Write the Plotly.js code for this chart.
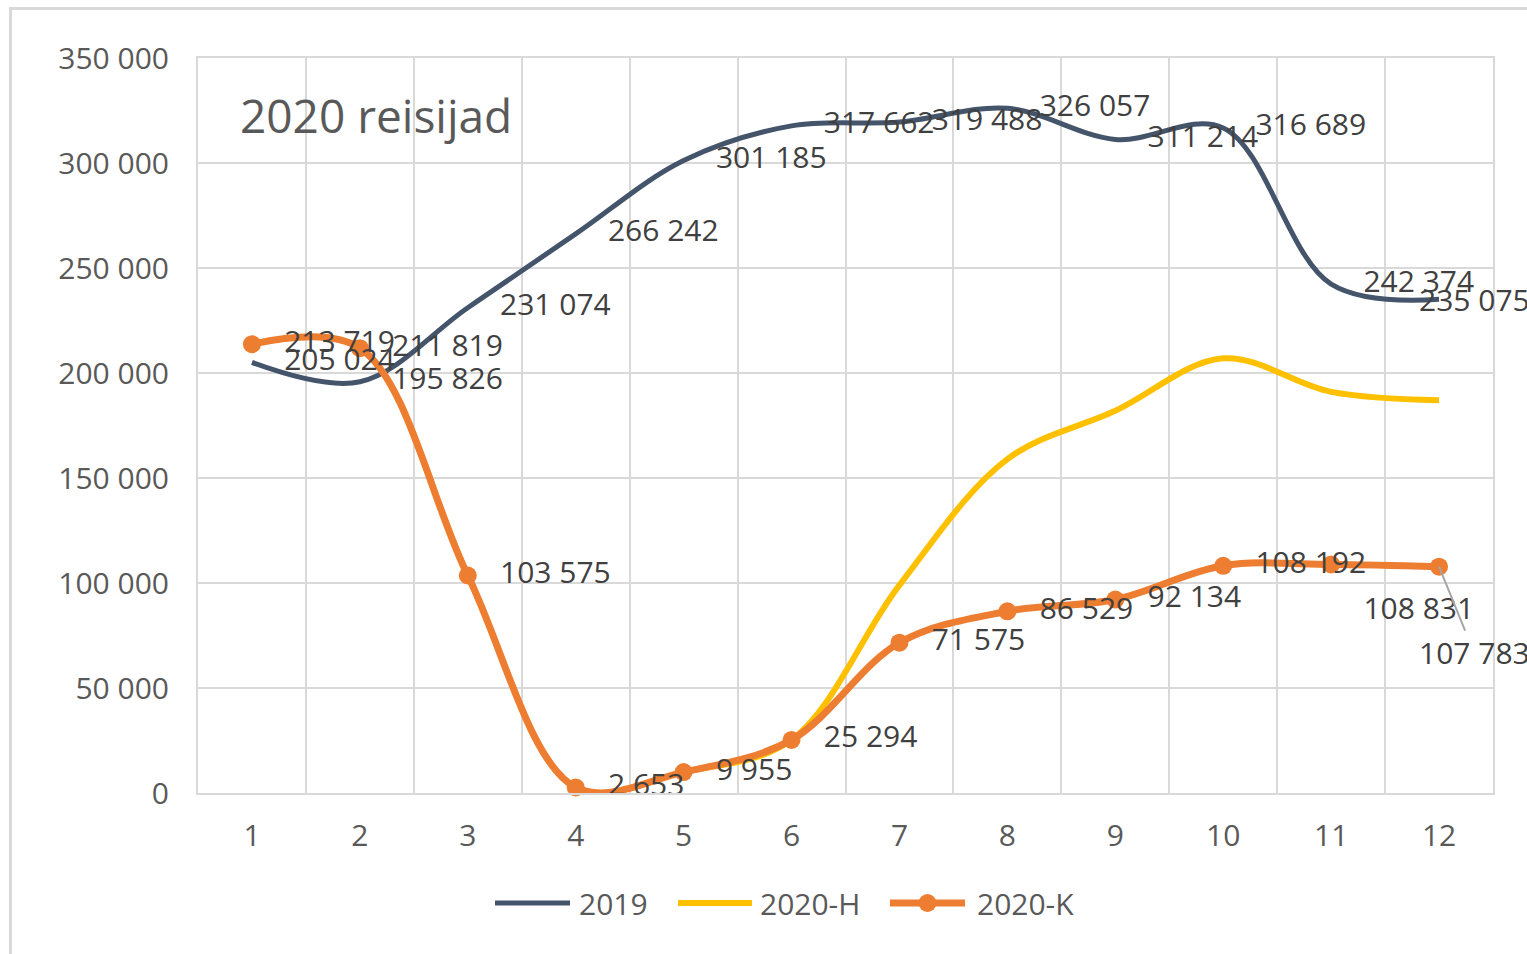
<!DOCTYPE html>
<html>
<head>
<meta charset="utf-8">
<script src="https://cdn.plot.ly/plotly-3.0.1.min.js"></script>
<style>
  html, body { margin: 0; padding: 0; background: #ffffff; overflow: hidden; }
  #chart { position: absolute; left: 0; top: 0; width: 1527px; height: 954px; }
  #frame { position: absolute; left: 9px; top: 7px; width: 1600px; height: 1000px;
           border-left: 3px solid #d9d9d9; border-top: 3px solid #d9d9d9; pointer-events: none; }
</style>
</head>
<body>
<div id="chart"></div>
<div id="frame"></div>
<script>
// ---- data ----
const months = [1, 2, 3, 4, 5, 6, 7, 8, 9, 10, 11, 12];
const s2019 = [205024, 195826, 231074, 266242, 301185, 317662, 319488, 326057, 311214, 316689, 242374, 235075];
const s2020H = [213719, 211819, 103575, 2653, 9955, 25294, 99000, 159000, 182000, 207000, 191000, 187000];
const s2020K = [213719, 211819, 103575, 2653, 9955, 25294, 71575, 86529, 92134, 108192, 108831, 107783];
const seriesNames = ['2019', '2020-H', '2020-K'];
const chartTitle = '2020 reisijad';
const yTicks = [0, 50000, 100000, 150000, 200000, 250000, 300000, 350000];

const FONT = 'Open Sans, Lato, sans-serif';
const fmt = v => String(v).replace(/\B(?=(\d{3})+(?!\d))/g, ' ');

const C2019 = '#44546A', CH = '#FFC000', CK = '#ED7D31';
const colors = [C2019, CH, CK];
const widths = [5, 6, 7];

// plot area in pixels (for converting legend placement to paper fractions)
const PL = 198, PR = 1493, PT = 58, PB = 793;
const px = x => (x - PL) / (PR - PL);
const py = y => (PB - y) / (PB - PT);

const traces = [
  { x: months, y: s2019, name: seriesNames[0], mode: 'lines', type: 'scatter',
    line: { color: C2019, width: 5, shape: 'spline', smoothing: 1 }, hoverinfo: 'skip', cliponaxis: false },
  { x: months, y: s2020H, name: seriesNames[1], mode: 'lines', type: 'scatter',
    line: { color: CH, width: 6, shape: 'spline', smoothing: 1 }, hoverinfo: 'skip', cliponaxis: false },
  { x: months, y: s2020K, name: seriesNames[2], mode: 'lines+markers', type: 'scatter',
    line: { color: CK, width: 7, shape: 'spline', smoothing: 1 },
    marker: { color: CK, size: 18 }, hoverinfo: 'skip', cliponaxis: false },
  // data labels
  { x: months.slice(0, 11), y: s2019.slice(0, 11), mode: 'markers+text', type: 'scatter', showlegend: false, hoverinfo: 'skip',
    marker: { size: 50, color: 'rgba(0,0,0,0)' }, cliponaxis: false,
    text: s2019.slice(0, 11).map(fmt), textposition: 'middle right',
    textfont: { family: FONT, size: 30, color: '#404040' } },
  { x: months.slice(0, 11), y: s2020K.slice(0, 11), mode: 'markers+text', type: 'scatter', showlegend: false, hoverinfo: 'skip',
    marker: { size: 50, color: 'rgba(0,0,0,0)' }, cliponaxis: false,
    text: s2020K.slice(0, 11).map(fmt),
    textposition: s2020K.slice(0, 11).map((v, i) => i === 10 ? 'bottom right' : 'middle right'),
    textfont: { family: FONT, size: 30, color: '#404040' } }
];

// legend drawn below the plot: long line swatches like the original
const legX = [[495, 570, 577], [678, 752, 758], [890, 965, 975]];
const legY = 903;
const shapes = [];
const annotations = [];
seriesNames.forEach((n, i) => {
  shapes.push({ type: 'line', xref: 'paper', yref: 'paper',
    x0: px(legX[i][0]), x1: px(legX[i][1]), y0: py(legY), y1: py(legY),
    line: { color: colors[i], width: widths[i] } });
  annotations.push({ xref: 'paper', yref: 'paper', x: px(legX[i][2]), y: py(legY),
    xanchor: 'left', yanchor: 'middle', showarrow: false, text: n,
    font: { family: FONT, size: 30, color: '#595959' } });
});
shapes.push({ type: 'circle', xref: 'paper', yref: 'paper',
  x0: px((legX[2][0] + legX[2][1]) / 2 - 9), x1: px((legX[2][0] + legX[2][1]) / 2 + 9),
  y0: py(legY + 9), y1: py(legY - 9), fillcolor: CK, line: { width: 0 } });

// labels for the last points
annotations.push({ x: months[11], y: s2019[11], xref: 'x', yref: 'y', text: fmt(s2019[11]),
  showarrow: false, xanchor: 'left', yanchor: 'middle', xshift: -22,
  font: { family: FONT, size: 30, color: '#404040' } });
annotations.push({ x: months[11], y: s2020K[11], xref: 'x', yref: 'y', text: fmt(s2020K[11]),
  showarrow: true, arrowhead: 0, arrowwidth: 2, arrowcolor: '#a6a6a6',
  ax: 35, ay: 86, xanchor: 'center', yanchor: 'middle',
  font: { family: FONT, size: 30, color: '#404040' } });

const layout = {
  width: 1527, height: 954,
  paper_bgcolor: '#ffffff', plot_bgcolor: '#ffffff',
  margin: { l: PL, r: 1527 - PR, t: PT, b: 954 - PB, pad: 0 },
  separators: ', ',
  font: { family: FONT, color: '#595959', size: 30 },
  title: { text: chartTitle, font: { family: FONT, size: 46, color: '#595959' },
           xref: 'container', x: 240 / 1527, xanchor: 'left',
           yref: 'container', y: 1 - 117 / 954, yanchor: 'middle' },
  xaxis: {
    range: [0.5, 12.5], tickmode: 'array', tickvals: months, ticktext: months.map(String),
    showgrid: false, zeroline: false,
    showline: true, mirror: true, linecolor: '#d9d9d9', linewidth: 2,
    ticks: 'outside', ticklen: 15, tickcolor: 'rgba(0,0,0,0)',
    tickfont: { family: FONT, size: 30, color: '#595959' },
    minor: { tickmode: 'linear', tick0: 0.5, dtick: 1, showgrid: true, gridcolor: '#d9d9d9', gridwidth: 2, ticks: '' }
  },
  yaxis: {
    range: [0, 350000], tickmode: 'array', tickvals: yTicks, ticktext: yTicks.map(fmt),
    showgrid: true, gridcolor: '#d9d9d9', gridwidth: 2, zeroline: false,
    showline: true, mirror: true, linecolor: '#d9d9d9', linewidth: 2,
    ticks: 'outside', ticklen: 21, tickcolor: 'rgba(0,0,0,0)',
    tickfont: { family: FONT, size: 30, color: '#595959' }
  },
  showlegend: false,
  shapes: shapes,
  annotations: annotations
};

Plotly.newPlot('chart', traces, layout, { displayModeBar: false, staticPlot: true });
</script>
</body>
</html>
